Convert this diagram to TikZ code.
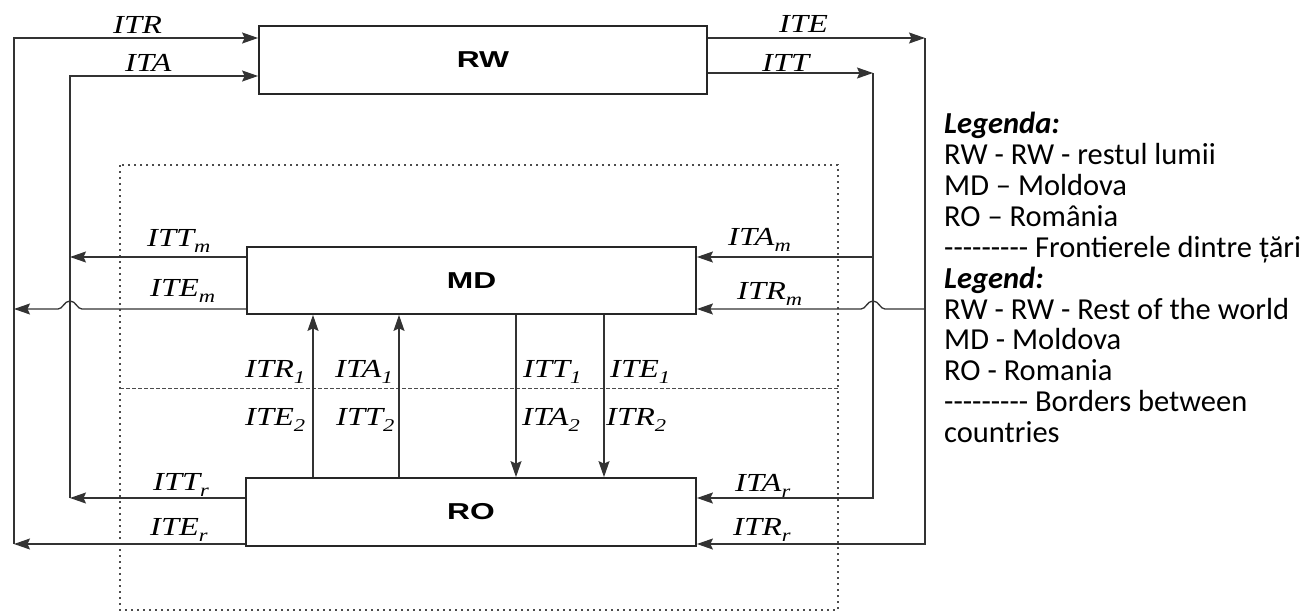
\documentclass[tikz,border=0pt]{standalone}
\usepackage{fontspec}
\setmainfont{Carlito}
\newfontfamily\lblfont[FakeStretch=1.25]{Liberation Serif}
\newfontfamily\boxfont[FakeStretch=1.38]{Liberation Sans}
\usetikzlibrary{arrows.meta}
\newcommand\lowidx[1]{\raisebox{-6pt}{\fontsize{18}{18}\selectfont #1}}
\newcommand\dashrow{-{}-{}-{}-{}-{}-{}-{}-{}-}

\begin{document}
\begin{tikzpicture}[
    x=1pt, y=-1pt,
    block/.style={rectangle, draw=black!85, line width=1.8pt, fill=white, inner sep=0pt,
                  font=\boxfont\bfseries\fontsize{23}{23}\selectfont},
    arr/.style={-{Stealth[length=16pt,width=11pt,inset=2.5pt]}, line width=1.3pt, draw=black!80},
    lbl/.style={anchor=base west, inner sep=0pt, font=\lblfont\itshape\fontsize{26}{26}\selectfont},
    border/.style={line width=1.6pt, dash pattern=on 1.6pt off 4.4pt, draw=black!70},
    split/.style={line width=0.9pt, dash pattern=on 3.5pt off 2.5pt, draw=black!70},
    legend/.style={align=left, inner sep=0pt, font=\fontsize{30.5}{30.9}\selectfont},
]
\useasboundingbox (0,0) rectangle (1309,613);

% country borders
\draw[border] (120,165) rectangle (838,610);
\draw[split] (120,388) -- (838,388);

\node[block, minimum width=448pt, minimum height=68pt] (RW) at (483,60) {RW};
\node[block, minimum width=449pt, minimum height=67pt] (MD) at (471.5,280.5) {MD};
\node[block, minimum width=450pt, minimum height=68pt] (RO) at (471,512) {RO};

\coordinate (outL) at (14,544);
\coordinate (inL) at (70,498);
\coordinate (inR) at (873,498);
\coordinate (outR) at (925,544);

% flows to and from the rest of the world
\draw[arr] (RO.west |- outL) -- (outL);
\draw[arr] (outL) |- (RW.west |- 0,38);
\draw[arr] (RO.west |- inL) -- (inL);
\draw[arr] (inL) |- (RW.west |- 0,76);
\draw[arr] (RW.east |- 0,38) -- (outR |- 0,38);
\draw[arr] (outR |- 0,38) -- (outR) -- (RO.east |- outR);
\draw[arr] (RW.east |- 0,73) -- (inR |- 0,73);
\draw[arr] (inR |- 0,73) -- (inR) -- (RO.east |- inR);

\draw[arr] (MD.west |- 0,257) -- (inL |- 0,257);
\draw[arr] (MD.west |- 0,309) -- (82,309) .. controls (77,309) and (76,301) .. (70,301)
    .. controls (64,301) and (63,309) .. (58,309) -- (outL |- 0,309);
\draw[arr] (inR |- 0,257) -- (MD.east |- 0,257);
\draw[arr] (outR |- 0,309) -- (885,309) .. controls (880,309) and (879,301) .. (873,301)
    .. controls (867,301) and (866,309) .. (861,309) -- (MD.east |- 0,309);

% flows between MD and RO
\draw[arr] (RO.north -| 313,0) -- (MD.south -| 313,0);
\draw[arr] (RO.north -| 399,0) -- (MD.south -| 399,0);
\draw[arr] (MD.south -| 516,0) -- (RO.north -| 516,0);
\draw[arr] (MD.south -| 604,0) -- (RO.north -| 604,0);

\node[lbl] (lITR) at (113,33) {ITR};
\node[lbl] (lITA) at (125,71) {ITA};
\node[lbl] (lITE) at (779,32) {ITE};
\node[lbl] (lITT) at (762,71) {ITT};
\node[lbl] (lITTm) at (147,246) {ITT\lowidx{m}};
\node[lbl] (lITEm) at (150,296) {ITE\lowidx{m}};
\node[lbl] (lITAm) at (728,245) {ITA\lowidx{m}};
\node[lbl] (lITRm) at (737,299) {ITR\lowidx{m}};
\node[lbl] (lITR1) at (245,377) {ITR\lowidx{1}};
\node[lbl] (lITA1) at (335,377) {ITA\lowidx{1}};
\node[lbl] (lITT1) at (523,377) {ITT\lowidx{1}};
\node[lbl] (lITE1) at (610,377) {ITE\lowidx{1}};
\node[lbl] (lITE2) at (245,425) {ITE\lowidx{2}};
\node[lbl] (lITT2) at (336,425) {ITT\lowidx{2}};
\node[lbl] (lITA2) at (522,425) {ITA\lowidx{2}};
\node[lbl] (lITR2) at (606,425) {ITR\lowidx{2}};
\node[lbl] (lITTr) at (153,490) {ITT\lowidx{r}};
\node[lbl] (lITEr) at (150,535) {ITE\lowidx{r}};
\node[lbl] (lITAr) at (735,491) {ITA\lowidx{r}};
\node[lbl] (lITRr) at (733,535) {ITR\lowidx{r}};

\node[legend, anchor=north west] (key) at (944,112) {\textbf{\textit{Legenda:}}\\
RW - RW - restul lumii\\MD – Moldova\\RO – România\\\dashrow\ Frontierele dintre țări\\
\textbf{\textit{Legend:}}\\RW - RW - Rest of the world\\MD - Moldova\\RO - Romania\\
\dashrow\ Borders between\\countries};
\end{tikzpicture}
\end{document}
